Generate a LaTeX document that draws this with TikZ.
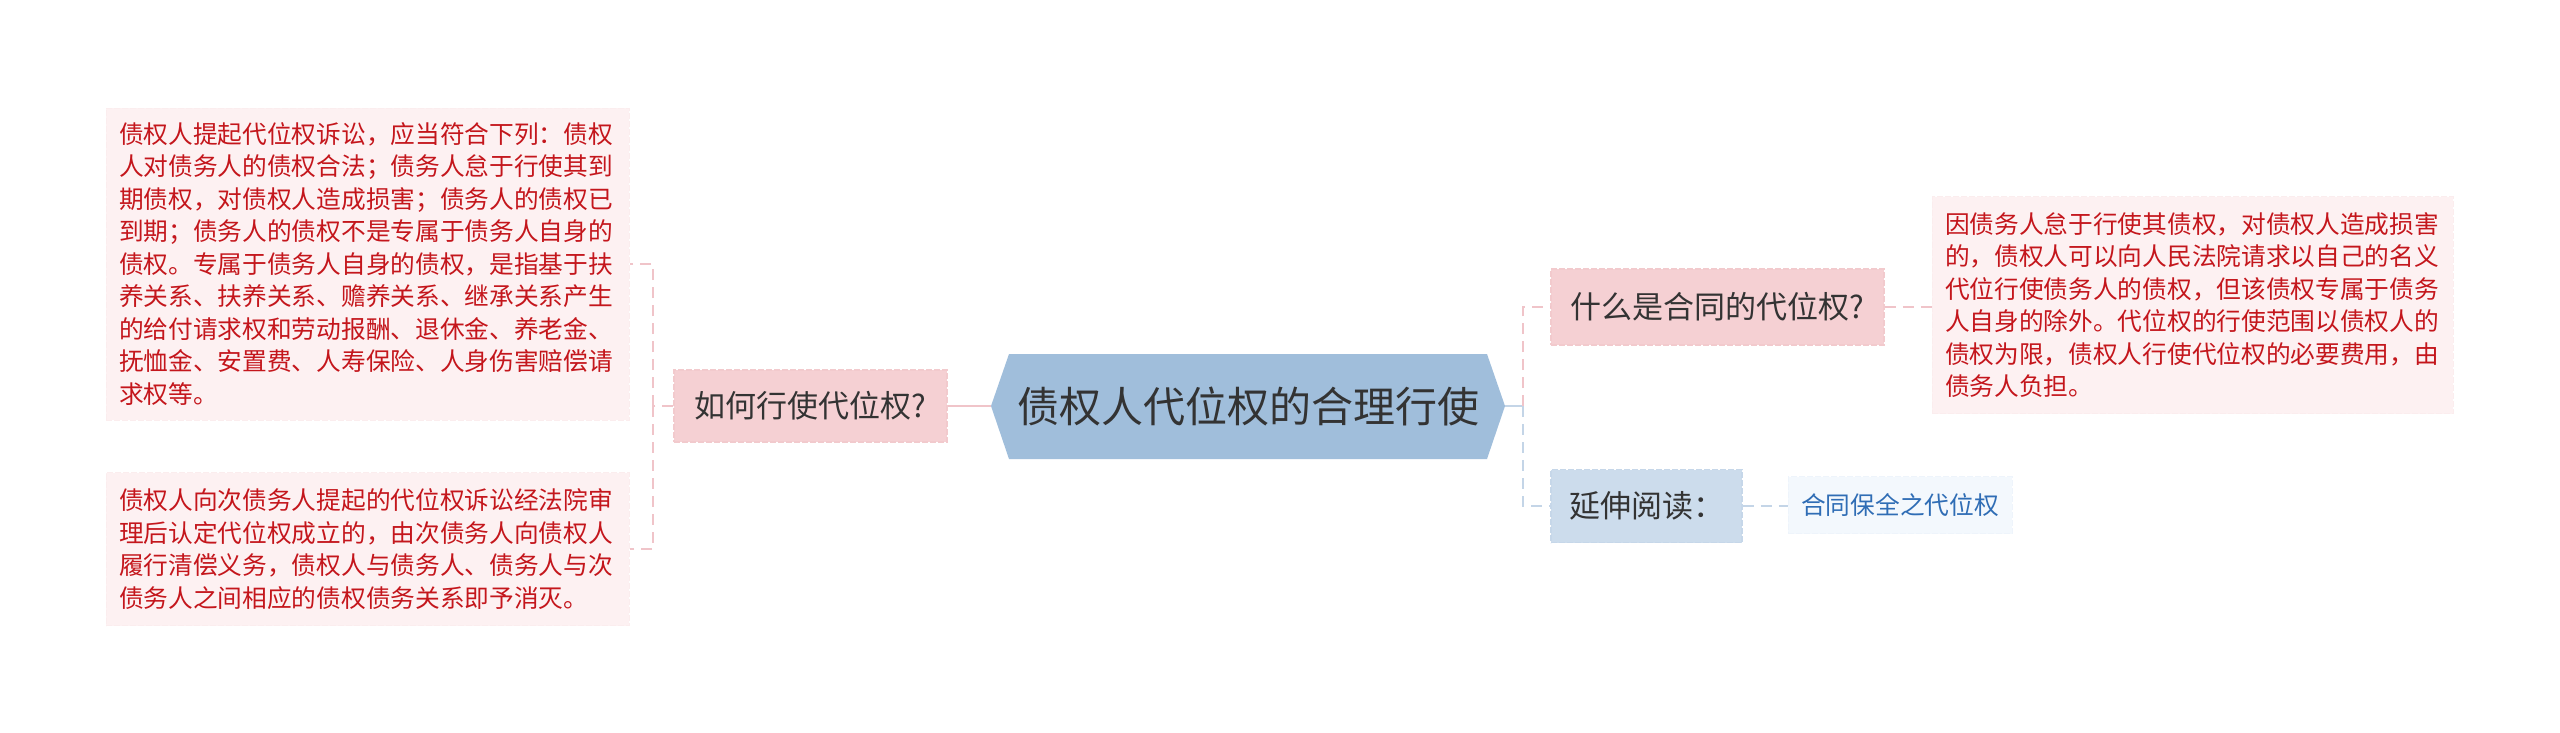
\documentclass[tikz,border=0pt]{standalone}
\usepackage{fontspec}
\newfontfamily\cjk{Noto Sans CJK SC}
\definecolor{pinkfill}{HTML}{F5D0D3}
\definecolor{pinkedge}{HTML}{F2CACD}
\definecolor{bluefill}{HTML}{CCDCEC}
\definecolor{blueedge}{HTML}{C6D7E9}
\definecolor{centerfill}{HTML}{A0BEDB}
\definecolor{boxfill}{HTML}{FDF1F2}
\definecolor{boxedge}{HTML}{FBEDEE}
\definecolor{linkfill}{HTML}{F3F8FD}
\definecolor{linkedge}{HTML}{EEF4FB}
\definecolor{redtext}{HTML}{C4161C}
\definecolor{bluetext}{HTML}{2F6DB5}
\definecolor{darktext}{HTML}{333333}
\definecolor{pinkline}{HTML}{F0C4C9}
\definecolor{blueline}{HTML}{C4D5E7}
\tikzset{
  topicbox/.style={rectangle, inner sep=0pt, text=darktext, line width=1.5pt, dash pattern=on 6pt off 2pt,
    font={\cjk\fontsize{31}{36}\selectfont}},
  pinktopic/.style={topicbox, fill=pinkfill, draw=pinkedge},
  bluetopic/.style={topicbox, fill=bluefill, draw=blueedge},
  notebox/.style={rectangle, fill=boxfill, draw=boxedge, line width=1pt, dash pattern=on 6pt off 2pt,
    inner sep=13pt, align=left, text=redtext, font={\cjk\fontsize{24.7}{32.5}\selectfont}},
  linkbox/.style={rectangle, fill=linkfill, draw=linkedge, line width=1pt, dash pattern=on 6pt off 2pt,
    inner sep=0pt, text=bluetext, font={\cjk\fontsize{24.7}{30}\selectfont}},
  pinkconn/.style={draw=pinkline, line width=2.5pt, dash pattern=on 11pt off 7pt},
  blueconn/.style={draw=blueline, line width=2.5pt, dash pattern=on 11pt off 7pt},
}
\begin{document}
\begin{tikzpicture}[x=1pt,y=-1pt]
\path[use as bounding box, fill=white] (0,0) rectangle (2560,732);

% central hexagon
\fill[centerfill] (991,406) -- (1009,354) -- (1487,354) -- (1505,406) -- (1487,459) -- (1009,459) -- cycle;
\node[text=darktext, font={\cjk\fontsize{42}{48}\selectfont}] (center) at (1248,406) {债权人代位权的合理行使};
\coordinate (cL) at (991,406);
\coordinate (cR) at (1505,406);

% left branch
\node[pinktopic, minimum width=273pt, minimum height=72pt] (ruhe) at (810.5,406) {如何行使代位权?};
\node[notebox, minimum width=523pt, minimum height=312pt, text width=497pt] (b1) at (367.5,264) {债权人提起代位权诉讼，应当符合下列：债权\\人对债务人的债权合法；债务人怠于行使其到\\期债权，对债权人造成损害；债务人的债权已\\到期；债务人的债权不是专属于债务人自身的\\债权。专属于债务人自身的债权，是指基于扶\\养关系、扶养关系、赡养关系、继承关系产生\\的给付请求权和劳动报酬、退休金、养老金、\\抚恤金、安置费、人寿保险、人身伤害赔偿请\\求权等。};
\node[notebox, minimum width=523pt, minimum height=153pt, text width=497pt] (b2) at (367.5,549) {债权人向次债务人提起的代位权诉讼经法院审\\理后认定代位权成立的，由次债务人向债权人\\履行清偿义务，债权人与债务人、债务人与次\\债务人之间相应的债权债务关系即予消灭。};

% right branch
\node[pinktopic, minimum width=333pt, minimum height=76pt] (shenme) at (1717.5,307) {什么是合同的代位权?};
\node[bluetopic, minimum width=191pt, minimum height=73pt] (yanshen) at (1646.5,506) {延伸阅读：};
\node[notebox, minimum width=521pt, minimum height=217pt, text width=495pt] (b3) at (2192.5,305) {因债务人怠于行使其债权，对债权人造成损害\\的，债权人可以向人民法院请求以自己的名义\\代位行使债务人的债权，但该债权专属于债务\\人自身的除外。代位权的行使范围以债权人的\\债权为限，债权人行使代位权的必要费用，由\\债务人负担。};
\node[linkbox, minimum width=224pt, minimum height=57pt] (link) at (1900,505) {合同保全之代位权};

% connectors left
\coordinate (lbus) at (653,406);
\draw[draw=pinkline, line width=2.5pt] (cL) -- (ruhe.east);
\draw[pinkconn] (ruhe.west) -- (lbus);
\draw[pinkconn] (lbus) |- (b1.east);
\draw[pinkconn] (lbus) |- (b2.east);

% connectors right
\coordinate (rbus) at (1523,406);
\draw[draw=blueline, line width=2.5pt] (cR) -- (rbus);
\draw[pinkconn] (rbus) |- (shenme.west);
\draw[blueconn] (rbus) |- (yanshen.west);
\draw[pinkconn] (shenme.east) -- (b3.west |- shenme.east);
\draw[blueconn] (yanshen.east) -- (link.west |- yanshen.east);
\end{tikzpicture}
\end{document}
